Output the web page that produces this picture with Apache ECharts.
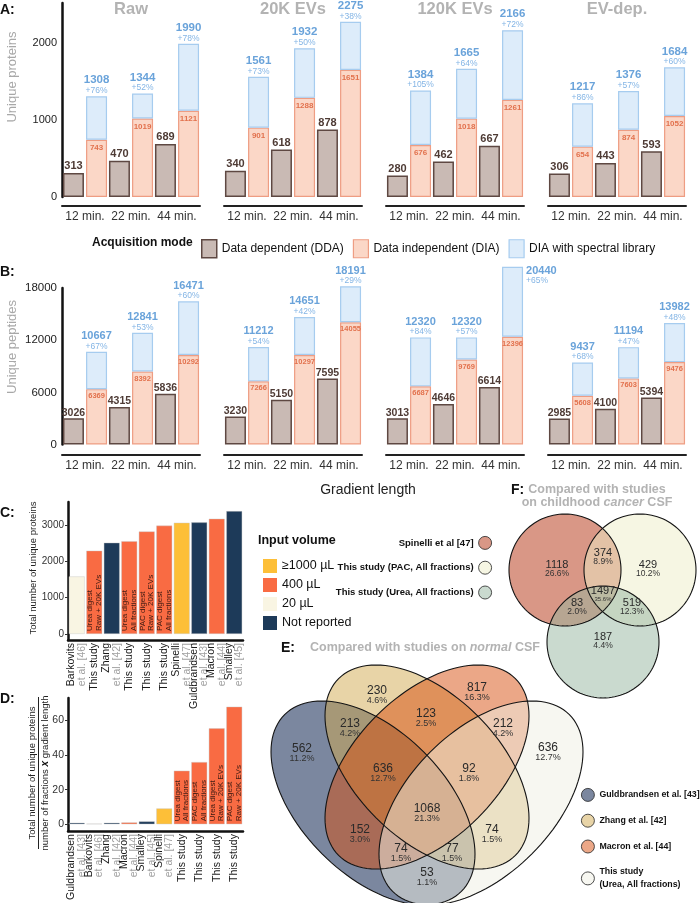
<!DOCTYPE html>
<html>
<head>
<meta charset="UTF-8">
<title>CSF proteome coverage</title>
<script src="https://cdn.jsdelivr.net/npm/echarts@6/dist/echarts.min.js"></script>
<style>html,body{margin:0;padding:0;background:#fff;}</style>
</head>
<body>
<div id="main" style="width:700px;height:903px;"></div>
<script>
// ---------- data ----------
var groups = ['Raw', '20K EVs', '120K EVs', 'EV-dep.'];
var gradients = ['12 min.', '22 min.', '44 min.'];
var modes = ['Data dependent (DDA)', 'Data independent (DIA)', 'DIA with spectral library'];

// A: unique proteins
var protDDA = [[313, 470, 689], [340, 618, 878], [280, 462, 667], [306, 443, 593]];
var protDIA = [[743, 1019, 1121], [901, 1288, 1651], [676, 1018, 1261], [654, 874, 1052]];
var protLib = [[1308, 1344, 1990], [1561, 1932, 2275], [1384, 1665, 2166], [1217, 1376, 1684]];
var protGain = [[76, 52, 78], [73, 50, 38], [105, 64, 72], [86, 57, 60]];

// B: unique peptides
var pepDDA = [[3026, 4315, 5836], [3230, 5150, 7595], [3013, 4646, 6614], [2985, 4100, 5394]];
var pepDIA = [[6369, 8392, 10292], [7266, 10297, 14055], [6687, 9769, 12396], [5608, 7603, 9476]];
var pepLib = [[10667, 12841, 16471], [11212, 14651, 18191], [12320, 12320, 20440], [9437, 11194, 13982]];
var pepGain = [[67, 53, 60], [54, 42, 29], [84, 57, 65], [68, 47, 48]];

// C / D: comparison with other studies
var volumes = ['\u22651000 \u00b5L', '400 \u00b5L', '20 \u00b5L', 'Not reported'];
var cStudies = ['Barkovits', 'This study', 'Zhang', 'This study', 'This study', 'This study', 'Spinelli', 'Guldbrandsen', 'Macron', 'Smalley'];
var cRefs = ['et al. [46]', '', 'et al. [42]', '', '', '', 'et al. [47]', 'et al. [43]', 'et al. [44]', 'et al. [45]'];
var cVolume = [2, 1, 3, 1, 1, 1, 0, 3, 1, 3];
var cProteins = [1590, 2300, 2520, 2560, 2830, 2990, 3070, 3080, 3180, 3390];
var cNotes = ['', 'Urea digest\nRaw + 20K EVs', '', 'Urea digest\nAll fractions', 'PAC digest\nRaw + 20K EVs', 'PAC digest\nAll fractions', '', '', '', ''];

var dStudies = ['Guldbrandsen', 'Barkovits', 'Zhang', 'Macron', 'Smalley', 'Spinelli', 'This study', 'This study', 'This study', 'This study'];
var dRefs = ['et al. [43]', 'et al. [46]', 'et al. [42]', 'et al. [44]', 'et al. [45]', 'et al. [47]', '', '', '', ''];
var dVolume = [3, 2, 3, 1, 3, 0, 1, 1, 1, 1];
var dScore = [0.9, 0.4, 0.9, 1.1, 1.7, 9.2, 31, 36, 55.5, 68];
var dNotes = ['', '', '', '', '', '', 'Urea digest\nAll fractions', 'PAC digest\nAll fractions', 'Urea digest\nRaw + 20K EVs', 'PAC digest\nRaw + 20K EVs'];

// E: four-set Venn (normal CSF)
var vennESets = ['Guldbrandsen et al. [43]', 'Zhang et al. [42]', 'Macron et al. [44]', 'This study (Urea, All fractions)'];
var vennECounts = [562, 230, 817, 636, 213, 123, 212, 636, 92, 1068, 152, 74, 74, 77, 53];
var vennEPct = ['11.2%', '4.6%', '16.3%', '12.7%', '4.2%', '2.5%', '4.2%', '12.7%', '1.8%', '21.3%', '3.0%', '1.5%', '1.5%', '1.5%', '1.1%'];

// F: three-set Venn (childhood cancer CSF)
var vennFSets = ['Spinelli et al [47]', 'This study (PAC, All fractions)', 'This study (Urea, All fractions)'];
var vennFCounts = [1118, 374, 429, 1497, 83, 519, 187];
var vennFPct = ['26.6%', '8.9%', '10.2%', '35.6%', '2.0%', '12.3%', '4.4%'];

// ---------- layout (pixel space of the hidden venn grid) ----------
var vennEShapes = [[373, 803, 125, 72, 45], [427, 767, 125, 72, 45], [427, 767, 125, 72, -45], [481, 803, 125, 72, -45]];
var vennELabelPos = [[302, 753], [377, 695], [477, 692], [548, 752], [350, 728], [426, 718], [503, 728], [383, 773], [469, 773], [427, 813], [360, 834], [492, 834], [401, 853], [452, 853], [427, 877]];
var vennFShapes = [[565, 570, 56, 56, 0], [640, 570, 56, 56, 0], [603, 642, 56, 56, 0]];
var vennFLabelPos = [[557, 569], [603, 557], [648, 569], [603, 594], [577, 607], [632, 607], [603, 641]];

var FONT = "'Liberation Sans', Arial, Helvetica, sans-serif";
var COL_DDA = '#c9bab4', EDGE_DDA = '#5e4842';
var COL_DIA = '#fbd7c7', EDGE_DIA = '#ee9d83';
var COL_LIB = '#ddecfa', EDGE_LIB = '#a6ccef';
var volColors = ['#fdbf38', '#f96b43', '#f9f5e3', '#1d3a59'];
var vennEColors = ['rgba(35,55,95,0.6)', 'rgba(210,170,80,0.5)', 'rgba(215,80,15,0.5)', 'rgba(240,240,228,0.5)'];
var vennFColors = ['rgba(185,65,35,0.55)', 'rgba(238,238,200,0.5)', 'rgba(150,182,160,0.5)'];
var colLeft = [62, 224, 386, 548];

var grids = [], xAxes = [], yAxes = [], series = [], graphics = [];
function plain(v) { return String(v); }

// ---------- A and B ----------
function addAcqPanel(top, height, ymax, yint, xOffset, dda, dia, lib, gain, fs, special) {
    groups.forEach(function (name, g) {
        var gi = grids.length;
        grids.push({ left: colLeft[g], top: top, width: 138, height: height });
        xAxes.push({
            gridIndex: gi, type: 'category', data: gradients, offset: xOffset,
            axisLine: { onZero: false, lineStyle: { color: '#222', width: 2 } },
            axisTick: { show: false },
            axisLabel: { interval: 0, color: '#333', fontSize: 12, margin: 5, hideOverlap: false }
        });
        yAxes.push({
            gridIndex: gi, type: 'value', min: 0, max: ymax, interval: yint, show: g === 0,
            axisLine: { show: true, lineStyle: { color: '#111', width: 2.5 } },
            axisTick: { show: false }, splitLine: { show: false },
            axisLabel: { fontSize: fs.tick, color: '#222', margin: 5, formatter: plain, showMaxLabel: ymax % yint === 0 }
        });
        series.push({
            type: 'bar', name: modes[0], xAxisIndex: gi, yAxisIndex: gi, barWidth: 21, barGap: '10%', clip: false,
            data: dda[g],
            itemStyle: { color: COL_DDA, borderColor: EDGE_DDA, borderWidth: 1.5 },
            label: { show: true, position: 'top', distance: fs.ddaDist, fontSize: fs.dda, fontWeight: 'bold', color: '#4e3b35' }
        });
        series.push({
            type: 'bar', name: modes[1], stack: 'acq' + gi, xAxisIndex: gi, yAxisIndex: gi, barWidth: 21, barGap: '10%', clip: false,
            data: dia[g],
            itemStyle: { color: COL_DIA, borderColor: EDGE_DIA, borderWidth: 1.2 },
            label: { show: true, position: 'insideTop', distance: fs.diaDist, fontSize: fs.dia, fontWeight: 'bold', color: '#e2714d' }
        });
        series.push({
            type: 'bar', name: modes[2], stack: 'acq' + gi, xAxisIndex: gi, yAxisIndex: gi, barWidth: 21, barGap: '10%', clip: false,
            data: lib[g].map(function (v, k) {
                var item = { value: v - dia[g][k] };
                if (special && special[0] === g && special[1] === k) {
                    item.label = { position: [24, -2], align: 'left', verticalAlign: 'top' };
                }
                return item;
            }),
            itemStyle: { color: COL_LIB, borderColor: EDGE_LIB, borderWidth: 1.2 },
            label: {
                show: true, position: 'top', distance: 1, align: 'center',
                formatter: function (p) { return '{t|' + lib[g][p.dataIndex] + '}\n{p|+' + gain[g][p.dataIndex] + '%}'; },
                rich: {
                    t: { fontSize: fs.lib, fontWeight: 'bold', color: '#6aa3da', lineHeight: fs.lib + 0.5, fontFamily: FONT },
                    p: { fontSize: 8.5, color: '#84b5e5', lineHeight: 9, fontFamily: FONT }
                }
            }
        });
    });
}
addAcqPanel(3, 194, 2520, 1000, 9, protDDA, protDIA, protLib, protGain,
    { tick: 11, dda: 11, ddaDist: 1, dia: 8, diaDist: 4, lib: 11.5 }, null);
addAcqPanel(288, 156.5, 18000, 6000, 10, pepDDA, pepDIA, pepLib, pepGain,
    { tick: 11.5, dda: 10.5, ddaDist: 0, dia: 7.5, diaDist: 3, lib: 11 }, [2, 2]);

// ---------- C and D ----------
function addStudyPanel(top, ymin, ymax, ticks, tickSize, names, refs, vol, vals, notes, stackId) {
    var gi = grids.length;
    grids.push({ left: 68, top: top, width: 175, height: 138 });
    xAxes.push({
        gridIndex: gi, type: 'category', data: names.map(function (n, i) { return String(i); }),
        axisLine: { onZero: false, lineStyle: { color: '#111', width: 2.5 } },
        axisTick: { show: false },
        axisLabel: {
            interval: 0, rotate: 90, margin: 3,
            formatter: function (v, i) {
                return refs[i] ? '{n|' + names[i] + '}\n{e|' + refs[i] + '}' : '{n|' + names[i] + '}';
            },
            rich: {
                n: { fontSize: 10.5, color: '#1a1a1a', lineHeight: 10.5, fontFamily: FONT },
                e: { fontSize: 10.5, color: '#a0a0a0', lineHeight: 10.5, fontFamily: FONT }
            }
        }
    });
    yAxes.push({
        gridIndex: gi, type: 'value', min: ymin, max: ymax,
        axisLine: { show: true, lineStyle: { color: '#111', width: 2.5 } },
        axisTick: { show: true, length: 3, customValues: ticks, lineStyle: { color: '#333' } },
        axisLabel: { customValues: ticks, fontSize: tickSize, color: '#333', margin: 4, formatter: plain },
        splitLine: { show: false }
    });
    volumes.forEach(function (vname, k) {
        series.push({
            type: 'bar', name: vname, stack: stackId, xAxisIndex: gi, yAxisIndex: gi, barWidth: 16,
            data: vals.map(function (v, i) { return vol[i] === k ? v : '-'; }),
            itemStyle: { color: volColors[k], borderColor: 'rgba(200,200,200,0.7)', borderWidth: 0.6 },
            label: {
                show: k === 1, position: 'insideBottom', rotate: 90, align: 'left', verticalAlign: 'middle', distance: 3,
                fontSize: 8, lineHeight: 8.5, color: '#3b1a12',
                formatter: function (p) { return notes[p.dataIndex]; }
            }
        });
    });
}
addStudyPanel(502, -165, 3640, [0, 1000, 2000, 3000], 10, cStudies, cRefs, cVolume, cProteins, cNotes, 'c');
addStudyPanel(698, -3.9, 73, [0, 20, 40, 60], 10.5, dStudies, dRefs, dVolume, dScore, dNotes, 'd');

// ---------- Venn diagrams on a hidden pixel grid ----------
var vi = grids.length;
grids.push({ left: 0, top: 0, width: 700, height: 903 });
xAxes.push({ gridIndex: vi, type: 'value', min: 0, max: 700, show: false });
yAxes.push({ gridIndex: vi, type: 'value', min: 0, max: 903, inverse: true, show: false });

function ellipseItem(params, api) {
    var cx = api.value(0), cy = api.value(1), rx = api.value(2), ry = api.value(3);
    var a = api.value(4) * Math.PI / 180, pts = [];
    for (var k = 0; k < 120; k++) {
        var t = k / 120 * Math.PI * 2;
        var ex = rx * Math.cos(t), ey = ry * Math.sin(t);
        pts.push(api.coord([cx + ex * Math.cos(a) - ey * Math.sin(a), cy + ex * Math.sin(a) + ey * Math.cos(a)]));
    }
    return { type: 'polygon', shape: { points: pts }, style: { fill: api.visual('color'), stroke: 'none' } };
}
function outlineItem(params, api) {
    var el = ellipseItem(params, api);
    el.style = { fill: 'none', stroke: '#151515', lineWidth: 1.1 };
    return el;
}
function addVenn(sets, shapes, colors, counts, pcts, pos, numSize, pctSize) {
    sets.forEach(function (name, k) {
        series.push({
            type: 'custom', name: name, xAxisIndex: vi, yAxisIndex: vi, silent: true, z: 3,
            itemStyle: { color: colors[k] }, renderItem: ellipseItem, data: [shapes[k]]
        });
    });
    series.push({
        type: 'custom', name: 'outline', xAxisIndex: vi, yAxisIndex: vi, silent: true, z: 4,
        renderItem: outlineItem, data: shapes
    });
    series.push({
        type: 'custom', name: 'counts', xAxisIndex: vi, yAxisIndex: vi, silent: true, z: 5,
        data: pos,
        renderItem: function (params, api) {
            var p = api.coord([api.value(0), api.value(1)]);
            var i = params.dataIndex;
            var ps = (counts === vennFCounts && i === 3) ? 6 : pctSize;
            return {
                type: 'text', x: p[0], y: p[1],
                style: {
                    text: '{n|' + counts[i] + '}\n{p|' + pcts[i] + '}',
                    align: 'center', verticalAlign: 'middle',
                    rich: {
                        n: { fontSize: numSize, lineHeight: numSize - 1, fill: '#2a2a2a', fontFamily: FONT },
                        p: { fontSize: ps, lineHeight: ps, fill: '#333', fontFamily: FONT }
                    }
                }
            };
        }
    });
}
addVenn(vennESets, vennEShapes, vennEColors, vennECounts, vennEPct, vennELabelPos, 12, 9);
addVenn(vennFSets, vennFShapes, vennFColors, vennFCounts, vennFPct, vennFLabelPos, 11, 8.5);

// ---------- legends ----------
var ELLIPSE_ICON = 'path://M10,0 A10,10 0 1 1 10,20 A10,10 0 1 1 10,0 Z';
var legends = [
    {
        left: 196, top: 234, orient: 'horizontal', itemWidth: 15, itemHeight: 18, itemGap: 9, icon: 'rect', selectedMode: false,
        textStyle: { fontSize: 12, color: '#111', fontFamily: FONT },
        data: [
            { name: modes[0], itemStyle: { color: COL_DDA, borderColor: EDGE_DDA, borderWidth: 1.5 } },
            { name: modes[1], itemStyle: { color: COL_DIA, borderColor: EDGE_DIA, borderWidth: 1.2 } },
            { name: modes[2], itemStyle: { color: COL_LIB, borderColor: EDGE_LIB, borderWidth: 1.2 } }
        ]
    },
    {
        left: 258, top: 554, orient: 'vertical', itemWidth: 14, itemHeight: 14, itemGap: 5, icon: 'rect', selectedMode: false,
        textStyle: { fontSize: 12.5, color: '#111', fontFamily: FONT },
        data: volumes.map(function (v, k) { return { name: v, itemStyle: { color: volColors[k], borderWidth: 0 } }; })
    },
    {
        left: 576, top: 783, orient: 'vertical', itemWidth: 13, itemHeight: 17, itemGap: 12, icon: ELLIPSE_ICON, selectedMode: false,
        textStyle: { fontSize: 8.8, fontWeight: 'bold', color: '#111', fontFamily: FONT, lineHeight: 13 },
        formatter: function (n) { return n === vennESets[3] ? 'This study\n(Urea, All fractions)' : n; },
        data: vennESets.map(function (v, k) { return { name: v, itemStyle: { color: vennEColors[k], borderColor: '#222', borderWidth: 0.8 } }; })
    },
    {
        right: 203, top: 531, orient: 'vertical', align: 'right', itemWidth: 13, itemHeight: 16, itemGap: 11, icon: ELLIPSE_ICON, selectedMode: false,
        textStyle: { fontSize: 9.5, fontWeight: 'bold', color: '#111', fontFamily: FONT },
        data: vennFSets.map(function (v, k) { return { name: v, itemStyle: { color: vennFColors[k], borderColor: '#222', borderWidth: 0.8 } }; })
    }
];

// ---------- text ----------
function txt(x, y, text, size, o) {
    o = o || {};
    return {
        type: 'text', x: x, y: y, rotation: o.rot || 0, silent: true, z: 20,
        style: {
            text: text, fontFamily: FONT, fontSize: size, fontWeight: o.weight || 'normal', fontStyle: o.style || 'normal',
            fill: o.color || '#111', align: o.align || 'left', verticalAlign: 'middle', rich: o.rich
        }
    };
}
var GREY = '#b3b3b3';
graphics.push(txt(0, 10, 'A:', 14, { weight: 'bold' }));
graphics.push(txt(0, 272, 'B:', 14, { weight: 'bold' }));
graphics.push(txt(0, 513, 'C:', 14, { weight: 'bold' }));
graphics.push(txt(0, 699, 'D:', 14, { weight: 'bold' }));
graphics.push(txt(281, 648, 'E:', 14, { weight: 'bold' }));
graphics.push(txt(511, 490, 'F:', 14, { weight: 'bold' }));
groups.forEach(function (g, i) { graphics.push(txt(colLeft[i] + 69, 9, g, 16.5, { weight: 'bold', color: GREY, align: 'center' })); });
graphics.push(txt(12, 77, 'Unique proteins', 13, { rot: Math.PI / 2, color: '#a8a8a8', align: 'center' }));
graphics.push(txt(12, 347, 'Unique peptides', 13, { rot: Math.PI / 2, color: '#a8a8a8', align: 'center' }));
graphics.push(txt(368, 490, 'Gradient length', 14, { align: 'center', color: '#222' }));
graphics.push(txt(92, 243, 'Acquisition mode', 12, { weight: 'bold' }));
graphics.push(txt(258, 541, 'Input volume', 12.5, { weight: 'bold' }));
graphics.push(txt(33, 568, 'Total number of unique proteins', 9.5, { rot: Math.PI / 2, align: 'center', color: '#222' }));
graphics.push(txt(32, 773, 'Total number of unique proteins', 9.5, { rot: Math.PI / 2, align: 'center', color: '#222' }));
graphics.push(txt(45, 773, 'number of fractions {x|x} gradient length', 9.5, {
    rot: Math.PI / 2, align: 'center', color: '#222',
    rich: { x: { fontSize: 10, fontWeight: 'bold', fontStyle: 'italic', fill: '#111', fontFamily: FONT } }
}));
graphics.push({ type: 'line', silent: true, z: 20, shape: { x1: 38.5, y1: 697, x2: 38.5, y2: 849 }, style: { stroke: '#222', lineWidth: 1 } });
graphics.push(txt(310, 648, 'Compared with studies on {i|normal} CSF', 12.5, {
    weight: 'bold', color: GREY,
    rich: { i: { fontSize: 12.5, fontWeight: 'bold', fontStyle: 'italic', fill: GREY, fontFamily: FONT } }
}));
graphics.push(txt(597, 490, 'Compared with studies', 12.5, { weight: 'bold', color: GREY, align: 'center' }));
graphics.push(txt(597, 503, 'on childhood {i|cancer} CSF', 12.5, {
    weight: 'bold', color: GREY, align: 'center',
    rich: { i: { fontSize: 12.5, fontWeight: 'bold', fontStyle: 'italic', fill: GREY, fontFamily: FONT } }
}));

var myChart = echarts.init(document.getElementById('main'));
myChart.setOption({
    animation: false,
    textStyle: { fontFamily: FONT },
    grid: grids,
    xAxis: xAxes,
    yAxis: yAxes,
    legend: legends,
    series: series,
    graphic: graphics
});
</script>
</body>
</html>
